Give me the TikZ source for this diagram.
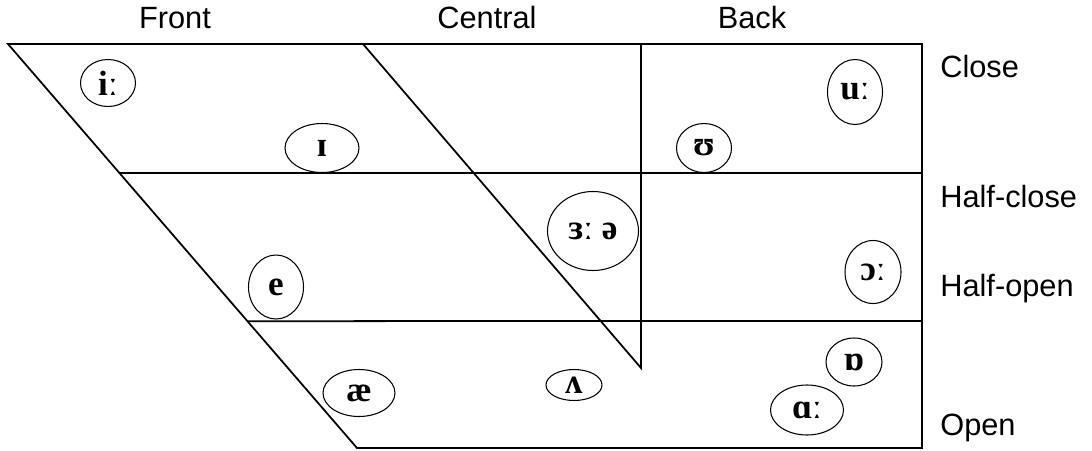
\documentclass[tikz,border=0pt]{standalone}
\usepackage{fontspec}
\setmainfont{Liberation Serif}
\setsansfont{Liberation Sans}
\usetikzlibrary{shapes.geometric, positioning, calc}

\begin{document}
\begin{tikzpicture}[
    x=0.02cm, y=-0.02cm,
    frame/.style={draw=black, line width=1pt},
    vowel/.style 2 args={ellipse, draw=black, line width=0.6pt, inner sep=0pt, minimum width=#1*0.02cm, minimum height=#2*0.02cm, font=\fontsize{20}{22}\selectfont\bfseries},
    axis/.style={inner sep=0pt, font=\sffamily\fontsize{17.5}{20}\selectfont}
]
    \useasboundingbox (0,0) rectangle (1092,450);

    % Chart outline
    \coordinate (tl) at (8,44);
    \coordinate (tr) at (922,44);
    \coordinate (br) at (922,448);
    \coordinate (bl) at (357,448);
    \draw [frame] (tl) -- (tr) -- (br) -- (bl) -- cycle;
    \draw [frame] ($(tl)!0.319!(bl)$) -- (922,173);
    \draw [frame] ($(tl)!0.686!(bl)$) -- (922,321);
    \draw [frame] (363,44) -- (641,368) -- (641,44);

    % Column and row labels
    \node (front) [axis, anchor=base] at (175,28) {Front};
    \node (central) [axis, anchor=base] at (487,28) {Central};
    \node (back) [axis, anchor=base] at (752,28) {Back};
    \node (close) [axis, anchor=base west] at (940,77) {Close};
    \node (halfclose) [axis, anchor=base west] at (940,207) {Half-close};
    \node (halfopen) [axis, anchor=base west] at (940,296) {Half-open};
    \node (open) [axis, anchor=base west] at (940,435) {Open};

    % Vowels
    \node (ii) [vowel={55}{47}] at (108,83) {iː};
    \node (ih) [vowel={74}{49}] at (322,148) {ɪ};
    \node (uh) [vowel={55}{49}] at (704,148) {ʊ};
    \node (uu) [vowel={55}{65}] at (855,92) {uː};
    \node (er) [vowel={91}{79}] at (593,231) {ɜː ə};
    \node (e) [vowel={55}{64}] at (276,287) {e};
    \node (ae) [vowel={72}{47}] at (359,393) {æ};
    \node (vv) [vowel={56}{31}] at (574,385) {ʌ};
    \node (oo) [vowel={56}{63}] at (873,272) {ɔː};
    \node (ob) [vowel={56}{48}] at (854,362) {ɒ};
    \node (aa) [vowel={73}{50}] at (807,410) {ɑː};

\end{tikzpicture}
\end{document}
